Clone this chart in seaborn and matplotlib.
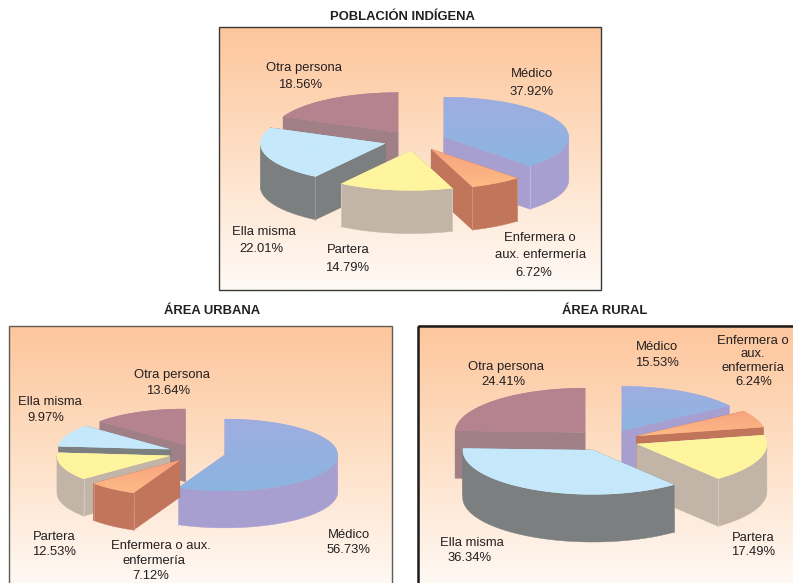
"""Exploded 3D pies: quien atendio el parto, by area."""

import matplotlib

matplotlib.use("Agg")
import matplotlib.pyplot as plt
import numpy as np
import seaborn as sns
from matplotlib.patches import Polygon

sns.set_theme(style="white")
plt.rcParams["font.family"] = ["Liberation Sans", "DejaVu Sans"]

categories = ["Médico", "Enfermera", "Partera", "Ella misma", "Otra persona"]
indigena_values = [37.92, 6.72, 14.79, 22.01, 18.56]
urbana_values = [56.73, 7.12, 12.53, 9.97, 13.64]
rural_values = [15.53, 6.24, 17.49, 36.34, 24.41]

indigena_names = [["Médico"], ["Enfermera o", "aux. enfermería"], ["Partera"], ["Ella misma"], ["Otra persona"]]
urbana_names = [["Médico"], ["Enfermera o aux.", "enfermería"], ["Partera"], ["Ella misma"], ["Otra persona"]]
rural_names = [["Médico"], ["Enfermera o", "aux.", "enfermería"], ["Partera"], ["Ella misma"], ["Otra persona"]]

top_colors = [
    ("#9fade0", "#8bb5e2"),
    ("#f8a27e", "#fcbb86"),
    ("#fff59e", "#fff59e"),
    ("#c6e8fb", "#c6e8fb"),
    ("#b5838f", "#b5838f"),
]
side_colors = ["#a79fd0", "#c1755b", "#c2b5a8", "#7b7f7f", "#a07f86"]
corner_colors = ["#bdb7dc", "#cf917b", "#d2c9bf", "#949898", "#b59aa0"]

panels = [
    dict(
        title="POBLACIÓN INDÍGENA", title_xy=(402, 16.5),
        values=indigena_values, names=indigena_names,
        rect=(219, 27, 601, 290), frame=("#3a3a38", 1.0),
        center=(415, 140.7), rx=125, ry=40, depth=43, explode=31,
        label_xy=[
            [(532, 74), (532, 92)],
            [(539.5, 238), (541, 255), (534, 273)],
            [(348, 250), (347, 268)],
            [(264, 232), (261, 249)],
            [(304.5, 68), (300, 85)],
        ],
    ),
    dict(
        title="ÁREA URBANA", title_xy=(212, 311.5),
        values=urbana_values, names=urbana_names,
        rect=(9, 326, 392, 590), frame=("#5e5e55", 1.0),
        center=(197, 453), rx=113, ry=36, depth=37, explode=28.4,
        label_xy=[
            [(349, 535), (349, 550)],
            [(161, 546), (154, 561), (151, 576)],
            [(54, 537), (54, 552)],
            [(50, 402), (46, 418)],
            [(172.5, 375), (168, 391)],
        ],
    ),
    dict(
        title="ÁREA RURAL", title_xy=(605, 311.5),
        values=rural_values, names=rural_names,
        rect=(417.5, 325.5, 802, 590), frame=("#1c1c1c", 1.8),
        center=(607, 440.3), rx=130, ry=44.5, depth=47.5, explode=31.8,
        label_xy=[
            [(656.5, 347), (657, 363)],
            [(753, 341), (753, 354), (753, 368), (754, 382)],
            [(753, 538), (753, 552)],
            [(472, 543), (470, 558)],
            [(505.5, 367), (503, 382)],
        ],
    ),
]

background = sns.blend_palette(["#fdc69c", "#fee0c7", "#fffaf6"], as_cmap=True)
column = np.linspace(0, 1, 256).reshape(-1, 1)


def rim(apex, rx, ry, deg):
    t = np.radians(deg)
    return np.column_stack([apex[0] + rx * np.sin(t), apex[1] - ry * np.cos(t)])


def down(points, depth):
    return points + np.array([0, depth])


def draw_slice(ax, p, i, start, end, z):
    mid = np.radians((start + end) / 2)
    ratio = p["ry"] / p["rx"]
    apex = (
        p["center"][0] + p["explode"] * np.sin(mid),
        p["center"][1] - p["explode"] * ratio * np.cos(mid),
    )
    rx, ry, depth = p["rx"], p["ry"], p["depth"]
    apex_pt = np.array([apex])

    # cut faces
    for edge in (start, end):
        outer = rim(apex, rx, ry, np.array([edge]))
        quad = np.vstack([apex_pt, outer, down(outer, depth), down(apex_pt, depth)])
        ax.add_patch(Polygon(quad, fc=side_colors[i], ec=side_colors[i], lw=0.3, zorder=z))

    # outer wall, only the part that faces the viewer
    lo, hi = max(start, 90), min(end, 270)
    if hi > lo:
        arc = rim(apex, rx, ry, np.linspace(lo, hi, 80))
        wall = np.vstack([arc, down(arc, depth)[::-1]])
        ax.add_patch(Polygon(wall, fc=side_colors[i], ec=side_colors[i], lw=0.3, zorder=z))

    for edge in (start, end):
        if 90 < edge < 270:
            pt = rim(apex, rx, ry, np.array([edge]))[0]
            ax.plot([pt[0], pt[0]], [pt[1], pt[1] + depth], color=corner_colors[i], lw=0.7, zorder=z)

    # top face with its vertical gradient
    arc = rim(apex, rx, ry, np.linspace(start, end, 160))
    top = np.vstack([apex_pt, arc])
    poly = Polygon(top, fc=top_colors[i][0], ec="none", zorder=z)
    ax.add_patch(poly)
    cmap = sns.blend_palette(list(top_colors[i]), as_cmap=True)
    im = ax.imshow(
        column, cmap=cmap, aspect="auto", zorder=z,
        extent=(top[:, 0].min(), top[:, 0].max(), top[:, 1].max(), top[:, 1].min()),
    )
    im.set_clip_path(poly)


fig = plt.figure(figsize=(7.93, 5.83), dpi=100)
ax = fig.add_axes([0, 0, 1, 1])

for p in panels:
    left, up, right, bottom = p["rect"]
    ax.imshow(column, cmap=background, aspect="auto", extent=(left, right, bottom, up), zorder=1)
    ax.add_patch(
        plt.Rectangle((left, up), right - left, bottom - up, fc="none", ec=p["frame"][0], lw=p["frame"][1], zorder=2)
    )
    ax.text(*p["title_xy"], p["title"], ha="center", va="center", fontsize=9.4, fontweight="bold", color="#231f20")

    edges = np.concatenate([[0], np.cumsum(p["values"]) * 3.6])
    mids = (edges[:-1] + edges[1:]) / 2
    # back slices first, so the front ones paint over them
    order = np.argsort(-np.cos(np.radians(mids)))
    for rank, i in enumerate(order):
        draw_slice(ax, p, i, edges[i], min(edges[i + 1], 360), 3 + rank)

    for i, lines in enumerate(p["names"]):
        texts = lines + [f"{p['values'][i]:.2f}%"]
        for text, xy in zip(texts, p["label_xy"][i]):
            ax.text(*xy, text, ha="center", va="center", fontsize=9.4, color="#231f20", zorder=20)

ax.set_xlim(0, 793)
ax.set_ylim(583, 0)
ax.axis("off")
fig.savefig("out.png", dpi=100)
